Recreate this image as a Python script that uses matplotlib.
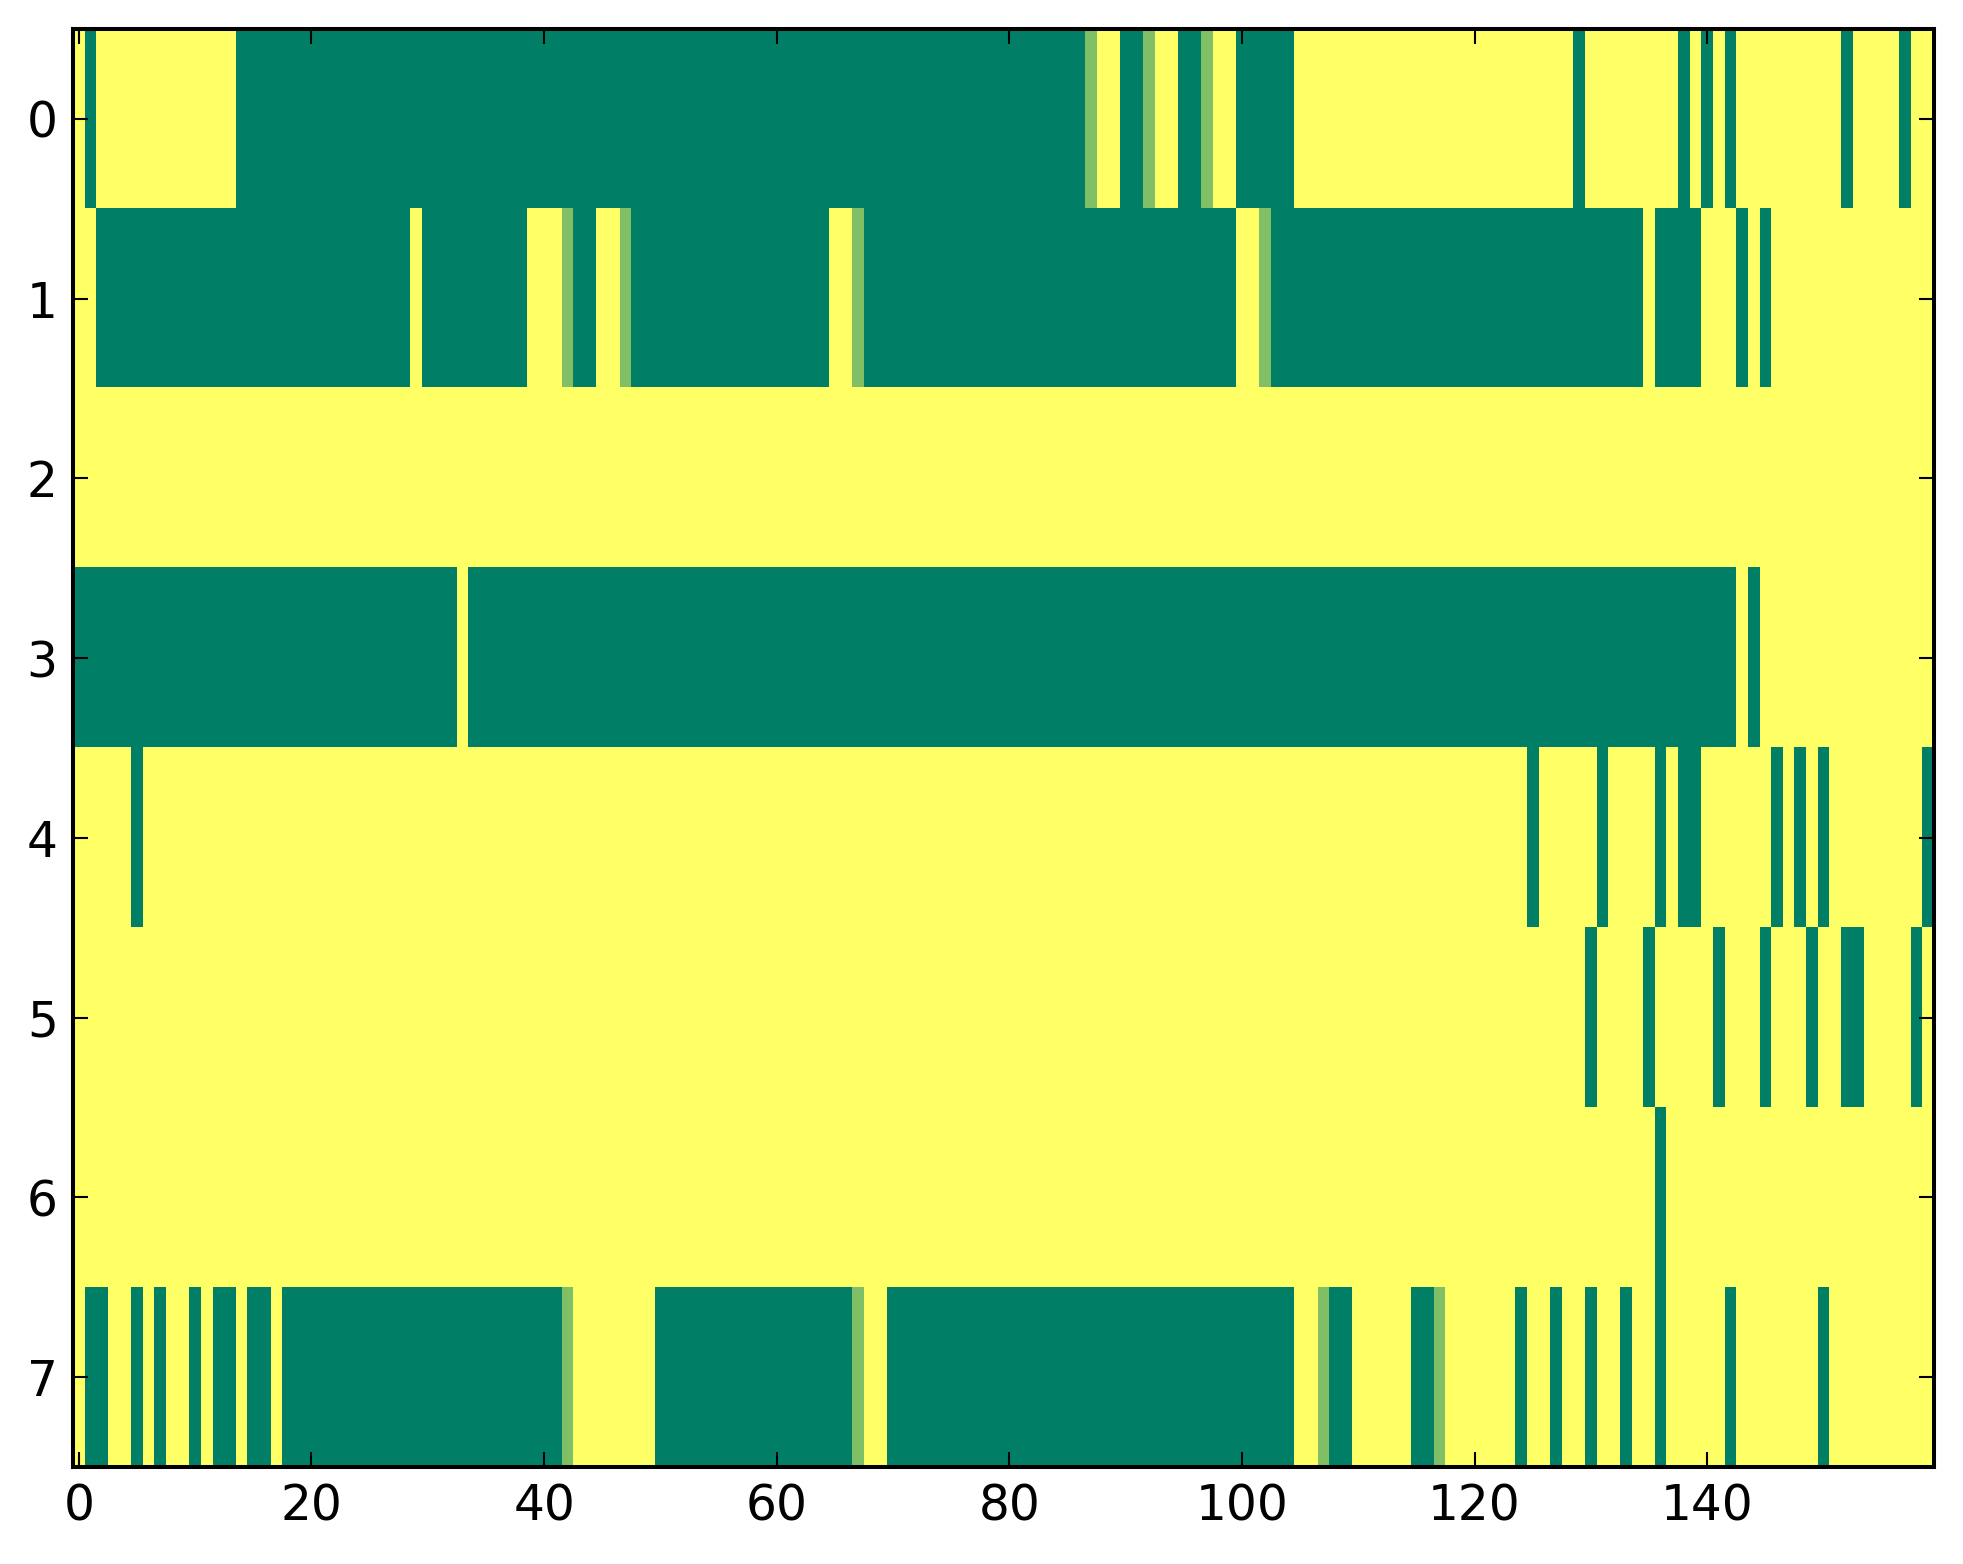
import numpy as np
import matplotlib
matplotlib.use('Agg')
import matplotlib.pyplot as plt

n_rows = 8
n_cols = 160

# runs of columns (inclusive) per row; 0 = green, 0.5 = light green, everything else = 1 (yellow)
green_runs = {
    0: [(1, 1), (14, 86), (90, 91), (95, 96), (100, 104), (129, 129), (138, 138),
        (140, 140), (142, 142), (152, 152), (157, 157)],
    1: [(2, 28), (30, 38), (43, 44), (48, 64), (68, 99), (103, 134), (136, 139),
        (143, 143), (145, 145)],
    2: [],
    3: [(0, 32), (34, 142), (144, 144)],
    4: [(5, 5), (125, 125), (131, 131), (136, 136), (138, 139), (146, 146),
        (148, 148), (150, 150), (159, 159)],
    5: [(130, 130), (135, 135), (141, 141), (145, 145), (149, 149), (152, 153),
        (158, 158)],
    6: [(136, 136)],
    7: [(1, 2), (5, 5), (7, 7), (10, 10), (12, 13), (15, 16), (18, 41), (50, 66),
        (70, 104), (108, 109), (115, 116), (124, 124), (127, 127), (130, 130),
        (133, 133), (136, 136), (142, 142), (150, 150)],
}
half_cols = {
    0: [87, 92, 97],
    1: [42, 47, 67, 102],
    7: [42, 67, 107, 117],
}

data = np.ones((n_rows, n_cols))
for r, runs in green_runs.items():
    for a, b in runs:
        data[r, a:b + 1] = 0.0
for r, cols in half_cols.items():
    data[r, cols] = 0.5

fig = plt.figure(figsize=(19.63, 15.64), dpi=100, facecolor='white')
ax = fig.add_axes([0.0372, 0.062, 0.948, 0.9195])
ax.imshow(data, cmap='summer', aspect='auto', interpolation='nearest', vmin=0, vmax=1)

ax.set_xticks(np.arange(0, 141, 20))
ax.set_yticks(np.arange(0, 8))
ax.tick_params(direction='in', top=True, right=True, length=11, width=1.5,
               labelsize=35, pad=11)
for s in ax.spines.values():
    s.set_linewidth(2.9)

fig.savefig('out.png', dpi=100, facecolor='white')
